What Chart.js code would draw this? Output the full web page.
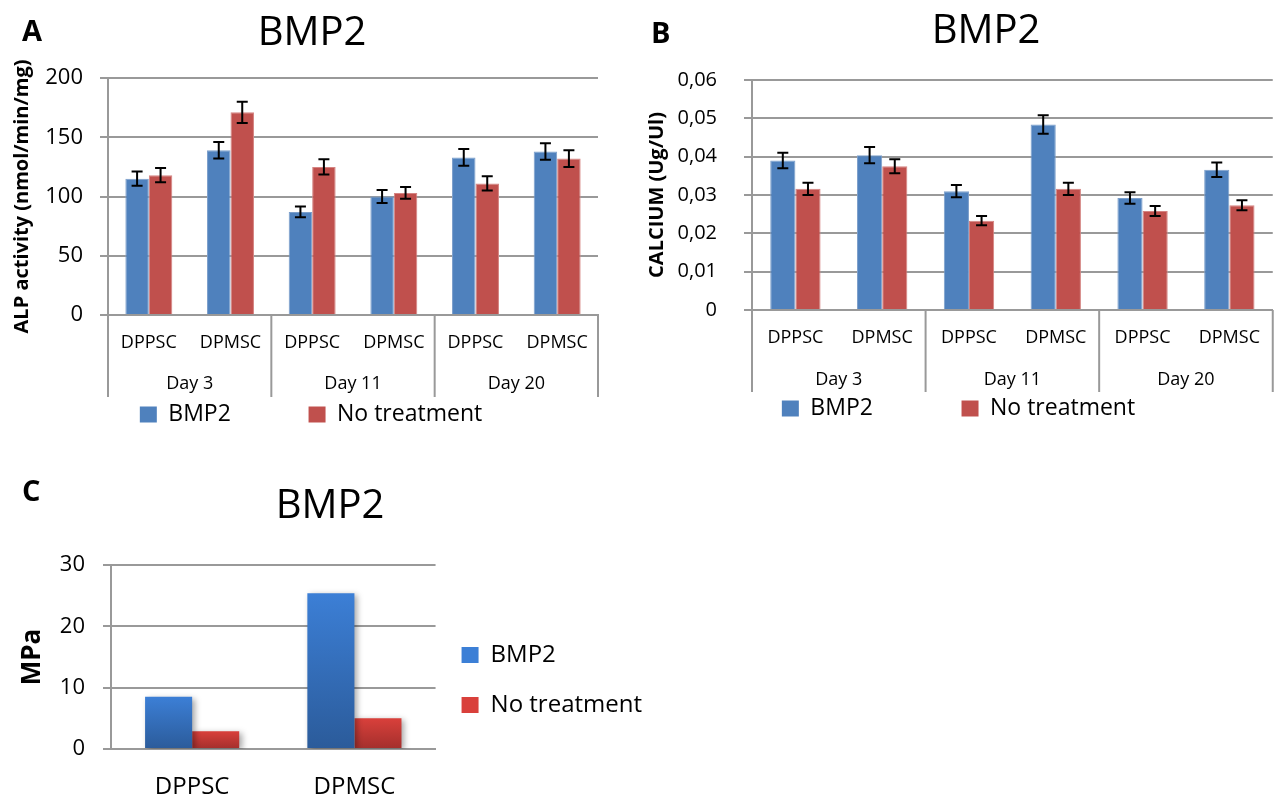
<!DOCTYPE html>
<html>
<head>
<meta charset="utf-8">
<script src="https://cdn.jsdelivr.net/npm/chart.js@4.4.1/dist/chart.umd.min.js"></script>
<style>
  body { margin: 0; background: #fff; }
  #page { position: relative; width: 1277px; height: 795px; overflow: hidden; background: #fff; font-family: "Open Sans", sans-serif; color: #000; }
  canvas { position: absolute; }
  .panel { position: absolute; font-size: 29px; font-weight: bold; line-height: 1; }
  .title { position: absolute; font-size: 40px; line-height: 1; transform: translateX(-50%); white-space: nowrap; }
</style>
</head>
<body>
<div id="page">
  <canvas id="chartA" width="640" height="436" style="left:0;top:0"></canvas>
  <canvas id="chartB" width="637" height="430" style="left:640px;top:0"></canvas>
  <canvas id="chartC" width="680" height="325" style="left:0;top:470px"></canvas>

  <div class="panel" style="left:22px;top:15px">A</div>
  <div class="title" style="left:312px;top:10px">BMP2</div>
  <div class="panel" style="left:651px;top:17px">B</div>
  <div class="title" style="left:986px;top:8px">BMP2</div>
  <div class="panel" style="left:22px;top:475px">C</div>
  <div class="title" style="left:330px;top:483px">BMP2</div>
</div>
<script>
// ---- data ----
const cellTypes = ['DPPSC', 'DPMSC', 'DPPSC', 'DPMSC', 'DPPSC', 'DPMSC'];
const days = ['Day 3', 'Day 11', 'Day 20'];
const seriesNames = ['BMP2', 'No treatment'];

// A: ALP activity
const alpBmp2 = [115, 139, 87, 100, 133, 138];
const alpBmp2Err = [6, 7, 4.5, 5.5, 7, 7];
const alpNoTreat = [118, 171, 125, 103, 111, 132];
const alpNoTreatErr = [6, 9, 6.5, 5, 6, 7];

// B: calcium
const caBmp2 = [0.039, 0.0404, 0.031, 0.0484, 0.0292, 0.0366];
const caBmp2Err = [0.002, 0.0021, 0.0016, 0.0024, 0.0015, 0.0019];
const caNoTreat = [0.0316, 0.0375, 0.0233, 0.0316, 0.0258, 0.0273];
const caNoTreatErr = [0.0016, 0.0018, 0.0012, 0.0016, 0.0013, 0.0013];
const caTicks = ['0', '0,01', '0,02', '0,03', '0,04', '0,05', '0,06'];

// C: MPa
const mpaCells = ['DPPSC', 'DPMSC'];
const mpaBmp2 = [8.5, 25.4];
const mpaNoTreat = [2.9, 5.0];

// ---- styles ----
const blue = '#4f81bd';
const blueEdge = '#7c9fcb';
const red = '#c0504d';
const redEdge = '#d58482';
const gridGray = '#999999';
Chart.defaults.font.family = '"Open Sans", sans-serif';
Chart.defaults.color = '#000';
Chart.defaults.animation = false;

const errorBars = {
    id: 'errorBars',
    afterDatasetsDraw(chart) {
        const { ctx } = chart;
        const y = chart.scales.y;
        ctx.save();
        ctx.strokeStyle = '#000';
        ctx.lineWidth = 2;
        chart.data.datasets.forEach((ds, i) => {
            if (!ds.errors) {
                return;
            }
            chart.getDatasetMeta(i).data.forEach((bar, j) => {
                const hi = y.getPixelForValue(ds.data[j] + ds.errors[j]);
                const lo = y.getPixelForValue(ds.data[j] - ds.errors[j]);
                ctx.beginPath();
                ctx.moveTo(bar.x, hi);
                ctx.lineTo(bar.x, lo);
                ctx.moveTo(bar.x - 5.5, hi);
                ctx.lineTo(bar.x + 5.5, hi);
                ctx.moveTo(bar.x - 5.5, lo);
                ctx.lineTo(bar.x + 5.5, lo);
                ctx.stroke();
            });
        });
        ctx.restore();
    },
};

// second level of the category axis (Day 3 / Day 11 / Day 20)
const groupAxis = {
    id: 'groupAxis',
    afterDraw(chart, args, opts) {
        const { ctx, chartArea } = chart;
        const x = chart.scales.x;
        const per = opts.per;
        ctx.save();
        ctx.strokeStyle = gridGray;
        ctx.lineWidth = 2;
        for (let g = 0; g <= opts.labels.length; g++) {
            const px = x.getPixelForValue(g * per - 0.5);
            ctx.beginPath();
            ctx.moveTo(px, chartArea.bottom);
            ctx.lineTo(px, chartArea.bottom + opts.depth);
            ctx.stroke();
        }
        ctx.fillStyle = '#000';
        ctx.font = '18px "Open Sans", sans-serif';
        ctx.textAlign = 'center';
        ctx.textBaseline = 'middle';
        opts.labels.forEach((label, g) => {
            ctx.fillText(label, x.getPixelForValue(g * per + (per - 1) / 2), chartArea.bottom + opts.labelOffset);
        });
        ctx.restore();
    },
};

const barShadow = {
    id: 'barShadow',
    beforeDatasetsDraw(chart) {
        const { ctx } = chart;
        ctx.save();
        ctx.shadowColor = 'rgba(0,0,0,0.35)';
        ctx.shadowBlur = 6;
        ctx.shadowOffsetX = 3;
        ctx.shadowOffsetY = 2;
    },
    afterDatasetsDraw(chart) {
        chart.ctx.restore();
    },
};

function spacedLabels(extraSpaces) {
    return (chart) => Chart.defaults.plugins.legend.labels.generateLabels(chart).map((item, i, all) => {
        if (i < all.length - 1) {
            item.text += ' '.repeat(extraSpaces);
        }
        item.lineWidth = 0;
        return item;
    });
}

function barGradient(top, bottom) {
    return (c) => {
        if (c.type !== 'data' || !c.chart.chartArea) {
            return top;
        }
        const y = c.chart.scales.y;
        const g = c.chart.ctx.createLinearGradient(0, y.getPixelForValue(c.raw), 0, y.getPixelForValue(0));
        g.addColorStop(0, top);
        g.addColorStop(1, bottom);
        return g;
    };
}

function groupedBarOptions(cfg) {
    return {
        responsive: false,
        layout: { padding: { top: cfg.top, right: cfg.right, left: cfg.left, bottom: 0 } },
        plugins: {
            tooltip: { enabled: false },
            legend: {
                position: 'bottom',
                labels: {
                    font: { size: 23 },
                    boxWidth: 17,
                    boxHeight: 16,
                    padding: cfg.legendPadding,
                    generateLabels: spacedLabels(cfg.legendSpaces),
                },
            },
            groupAxis: { labels: days, per: 2, depth: 82, labelOffset: cfg.dayOffset },
        },
        scales: {
            x: {
                grid: { display: false, drawTicks: false },
                border: { display: true, color: gridGray, width: 2 },
                ticks: { font: { size: 18 }, padding: 17, maxRotation: 0, autoSkip: false },
                afterFit: (s) => { s.height = 82; },
            },
            y: {
                min: 0,
                max: cfg.max,
                ticks: { stepSize: cfg.step, font: { size: cfg.tickSize }, padding: cfg.tickPad, callback: cfg.tickFormat },
                grid: { color: gridGray, lineWidth: 2, tickLength: 8 },
                border: { color: gridGray, width: 2 },
                title: {
                    display: true,
                    text: cfg.yTitle,
                    font: { size: 20, weight: 'bold' },
                    padding: { top: cfg.titlePad, bottom: 0 },
                },
                afterFit: (s) => { s.width = cfg.axisWidth; },
            },
        },
    };
}

function errorBarDataset(label, data, errors, fill, edge, pct) {
    return {
        label,
        data,
        errors,
        backgroundColor: fill,
        borderColor: edge,
        borderWidth: 1,
        categoryPercentage: pct,
        barPercentage: 1,
    };
}

new Chart(document.getElementById('chartA'), {
    type: 'bar',
    data: {
        labels: cellTypes,
        datasets: [
            errorBarDataset(seriesNames[0], alpBmp2, alpBmp2Err, blue, blueEdge, 0.575),
            errorBarDataset(seriesNames[1], alpNoTreat, alpNoTreatErr, red, redEdge, 0.575),
        ],
    },
    options: groupedBarOptions({
        top: 78, right: 42, left: 24, max: 200, step: 50, tickSize: 22, tickPad: 17,
        yTitle: 'ALP activity (nmol/min/mg)', titlePad: -14, axisWidth: 84,
        legendPadding: 6, legendSpaces: 12, dayOffset: 69,
    }),
    plugins: [errorBars, groupAxis],
});

new Chart(document.getElementById('chartB'), {
    type: 'bar',
    data: {
        labels: cellTypes,
        datasets: [
            errorBarDataset(seriesNames[0], caBmp2, caBmp2Err, blue, blueEdge, 0.58),
            errorBarDataset(seriesNames[1], caNoTreat, caNoTreatErr, red, redEdge, 0.58),
        ],
    },
    options: groupedBarOptions({
        top: 80, right: 0, left: 0, max: 0.06, step: 0.01, tickSize: 20, tickPad: 27,
        tickFormat: (v, i) => caTicks[i],
        yTitle: 'CALCIUM (Ug/Ul)', titlePad: 5, axisWidth: 112,
        legendPadding: 5, legendSpaces: 14, dayOffset: 70,
    }),
    plugins: [errorBars, groupAxis],
});

new Chart(document.getElementById('chartC'), {
    type: 'bar',
    data: {
        labels: mpaCells,
        datasets: [
            { label: seriesNames[0], data: mpaBmp2, backgroundColor: barGradient('#3c7fd6', '#2b5b9a'), categoryPercentage: 0.58, barPercentage: 1 },
            { label: seriesNames[1], data: mpaNoTreat, backgroundColor: barGradient('#d9403b', '#a32f2c'), categoryPercentage: 0.58, barPercentage: 1 },
        ],
    },
    options: {
        responsive: false,
        layout: { padding: { top: 95, right: 28, left: 0, bottom: 0 } },
        plugins: {
            tooltip: { enabled: false },
            legend: {
                position: 'right',
                maxWidth: 300,
                labels: { font: { size: 24 }, boxWidth: 17, boxHeight: 16, padding: 26 },
            },
        },
        scales: {
            x: {
                grid: { display: false, drawTicks: false },
                border: { display: true, color: gridGray, width: 2 },
                ticks: { font: { size: 24 }, padding: 24, maxRotation: 0 },
                afterFit: (s) => { s.height = 46; },
            },
            y: {
                min: 0,
                max: 30,
                ticks: { stepSize: 10, font: { size: 22 }, padding: 18 },
                grid: { color: gridGray, lineWidth: 2, tickLength: 8 },
                border: { color: gridGray, width: 2 },
                title: { display: true, text: 'MPa', font: { size: 26, weight: 'bold' }, padding: { top: 17, bottom: 0 } },
                afterFit: (s) => { s.width = 111; },
            },
        },
    },
    plugins: [barShadow],
});
</script>
</body>
</html>
